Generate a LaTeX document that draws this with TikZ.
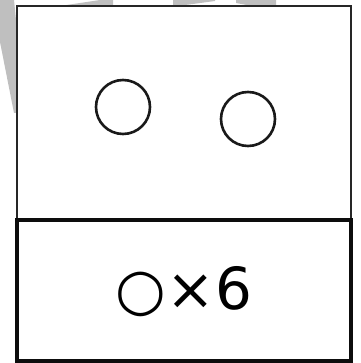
\documentclass[tikz,border=0pt]{standalone}
\usepackage{fontspec}
\newfontfamily\symbfont{DejaVu Sans}
\usepackage{tikz}

\begin{document}
\begin{tikzpicture}[x=1pt, y=-1pt, every node/.style={font=\symbfont\fontsize{58}{64}\selectfont}]
	\useasboundingbox (0,0) rectangle (360,363);
	% faint watermark peeking out round the frame
	\fill[black!25] (0,0) -- (14,0) -- (17,30) -- (17,113) -- (14,113) -- (0,42) -- cycle;
	\fill[black!25] (60,6) -- (100,0) -- (113,0) -- (113,6) -- cycle;
	\fill[black!25] (173,0) -- (215,0) -- (215,1) -- (178,6) -- (173,6) -- cycle;
	\fill[black!25] (236,0) -- (276,0) -- (276,6) -- (252,6) -- (236,3) -- cycle;
	\draw[fill=white, line width=1.5pt, draw=black!85] (17,6) rectangle (351,220);
	\foreach \x/\y in {123/107, 248/119} {\draw[line width=2.6pt, black!90] (\x,\y) circle (27pt);}
	\draw[line width=4.5pt, black!95] (17,220) rectangle (351,361);
	\node (count) at (184,292) {○×6};
\end{tikzpicture}
\end{document}
